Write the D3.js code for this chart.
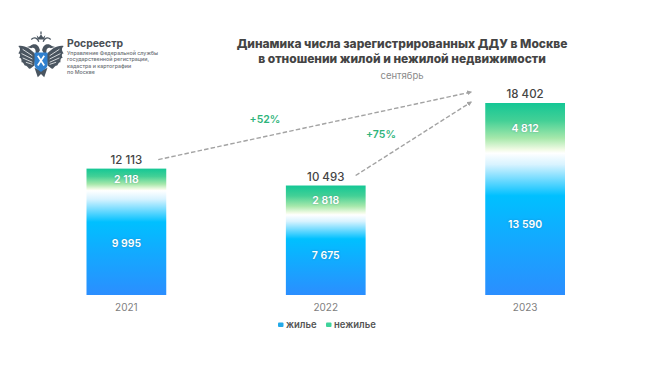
<!DOCTYPE html>
<html lang="en">

<head>
    <meta charset="UTF-8">
    <title>ДДУ в Москве</title>
    <style>
        html, body { margin: 0; padding: 0; background: #fff; }
        svg { display: block; font-family: Inter, sans-serif; }
        .domain { display: none; }
    </style>
</head>

<body>
    <div id="chart"></div>
    <script src="https://d3js.org/d3.v7.min.js"></script>
    <script>
        const years = ["2021", "2022", "2023"];
        const housing = [9995, 7675, 13590];
        const nonHousing = [2118, 2818, 4812];
        const totals = [12113, 10493, 18402];
        const growth = ["+52%", "+75%"];
        const seriesNames = ["жилье", "нежилье"];
        const titleLines = ["Динамика числа зарегистрированных ДДУ в Москве", "в отношении жилой и нежилой недвижимости"];
        const subtitle = "сентябрь";
        const orgLines = ["Управление Федеральной службы", "государственной регистрации,", "кадастра и картографии", "по Москве"];

        const width = 650, height = 367;
        const fmt = v => String(v).replace(/\B(?=(\d{3})+$)/g, " ");

        const svg = d3.select("#chart").append("svg")
            .attr("width", width)
            .attr("height", height);

        const defs = svg.append("defs");
        function gradient(id, stops) {
            defs.append("linearGradient")
                .attr("id", id)
                .attr("x1", 0).attr("x2", 0).attr("y1", 0).attr("y2", 1)
                .selectAll("stop")
                .data(stops)
                .join("stop")
                .attr("offset", d => d[0])
                .attr("stop-color", d => d[1]);
        }
        gradient("blue", [[0, "#ffffff"], [0.08, "#d8f3ff"], [0.3, "#00c0ff"], [0.55, "#10adff"], [1, "#2b8eff"]]);
        gradient("green", [[0, "#14c795"], [0.35, "#43d096"], [0.7, "#a6e8ab"], [0.93, "#f2fbe6"], [1, "#ffffff"]]);

        const x = d3.scaleBand().domain(years).range([86.5, 565]).paddingInner(0.6);
        const y = d3.scaleLinear().domain([0, 18402]).range([295, 103]);

        // bars
        const bars = svg.append("g")
            .selectAll("g")
            .data(years)
            .join("g")
            .attr("transform", d => `translate(${x(d)},0)`);

        bars.append("rect")
            .attr("y", (d, i) => y(housing[i]))
            .attr("width", x.bandwidth())
            .attr("height", (d, i) => y(0) - y(housing[i]))
            .attr("fill", "url(#blue)");

        bars.append("rect")
            .attr("y", (d, i) => y(totals[i]))
            .attr("width", x.bandwidth())
            .attr("height", (d, i) => y(housing[i]) - y(totals[i]))
            .attr("fill", "url(#green)");

        bars.append("text")
            .attr("class", "val")
            .attr("x", x.bandwidth() / 2)
            .attr("y", (d, i) => y(housing[i] / 2))
            .text((d, i) => fmt(housing[i]));

        bars.append("text")
            .attr("class", "val")
            .attr("x", x.bandwidth() / 2)
            .attr("y", (d, i) => y(housing[i] + nonHousing[i] / 2))
            .text((d, i) => fmt(nonHousing[i]));

        svg.selectAll(".val")
            .attr("text-anchor", "middle")
            .attr("dy", "0.36em")
            .attr("fill", "#fff")
            .attr("font-size", 10.5)
            .attr("font-weight", 600)
            .style("text-shadow", "0 0 2px rgba(60,90,110,0.45)");

        bars.append("text")
            .attr("x", x.bandwidth() / 2)
            .attr("y", (d, i) => y(totals[i]) - 5)
            .attr("text-anchor", "middle")
            .attr("fill", "#444")
            .attr("font-size", 11.5)
            .attr("font-weight", 500)
            .text((d, i) => fmt(totals[i]));

        // x axis
        svg.append("g")
            .attr("transform", `translate(0,${y(0)})`)
            .call(d3.axisBottom(x).tickSize(0).tickPadding(9))
            .call(g => g.selectAll("text")
                .attr("font-family", "Inter, sans-serif")
                .attr("font-size", 10)
                .attr("fill", "#808080"));

        // growth arrows
        defs.append("marker")
            .attr("id", "head")
            .attr("markerUnits", "userSpaceOnUse")
            .attr("viewBox", "0 0 6 6")
            .attr("refX", 5).attr("refY", 3)
            .attr("markerWidth", 5).attr("markerHeight", 5)
            .attr("orient", "auto")
            .append("path")
            .attr("d", "M0,0L6,3L0,6Z")
            .attr("fill", "#a3a3a3");

        const arrowEnd = x("2023") - 14;
        const arrows = [
            { from: "2021", i: 0, x1: x("2021") + x.bandwidth() - 8, y1: y(totals[0]) - 9, y2: y(totals[2]) - 11 },
            { from: "2022", i: 1, x1: x("2022") + x.bandwidth() - 10, y1: y(totals[1]) - 10, y2: y(totals[2]) - 1 }
        ];
        svg.append("g")
            .selectAll("line")
            .data(arrows)
            .join("line")
            .attr("x1", d => d.x1)
            .attr("y1", d => d.y1)
            .attr("x2", arrowEnd)
            .attr("y2", d => d.y2)
            .attr("stroke", "#a3a3a3")
            .attr("stroke-width", 1.4)
            .attr("stroke-dasharray", "4.5 2.2")
            .attr("marker-end", "url(#head)");

        svg.append("g")
            .selectAll("text")
            .data(growth)
            .join("text")
            .attr("x", (d, i) => [265, 381][i])
            .attr("y", (d, i) => [123, 138][i])
            .attr("text-anchor", "middle")
            .attr("fill", "#2eb47a")
            .attr("font-size", 10.5)
            .attr("font-weight", 600)
            .text(d => d);

        // title
        svg.append("g")
            .selectAll("text")
            .data(titleLines)
            .join("text")
            .attr("x", 402)
            .attr("y", (d, i) => 48 + i * 15)
            .attr("text-anchor", "middle")
            .attr("fill", "#444")
            .attr("font-size", 12)
            .attr("font-weight", 800)
            .text(d => d);

        svg.append("text")
            .attr("x", 402)
            .attr("y", 79)
            .attr("text-anchor", "middle")
            .attr("fill", "#8a8a8a")
            .attr("font-size", 9.5)
            .text(subtitle);

        // legend
        const legend = svg.append("g")
            .selectAll("g")
            .data(seriesNames)
            .join("g")
            .attr("transform", (d, i) => `translate(${[278, 326][i]},325)`);
        legend.append("rect")
            .attr("y", -2.5)
            .attr("width", 5.5)
            .attr("height", 4.5)
            .attr("rx", 1)
            .attr("fill", (d, i) => ["#22a9e8", "#3fd39b"][i]);
        legend.append("text")
            .attr("x", 8)
            .attr("dy", "0.32em")
            .attr("fill", "#555")
            .attr("font-size", 9.5)
            .attr("font-weight", 600)
            .text(d => d);

        // logo
        const logo = svg.append("g").attr("transform", "translate(41,59) scale(1.08)");
        const wing = "M-5,-4C-9,-9 -15,-13 -21,-12C-18,-9 -20,-7 -21,-5C-19,-5 -19,-3 -20,-1C-18,-1 -18,1 -18,3C-16,3 -16,5 -15,6C-13,6 -12,8 -11,9C-9,9 -8,7 -6,6Z";
        logo.selectAll("path.wing")
            .data([1, -1])
            .join("path")
            .attr("class", "wing")
            .attr("transform", d => `scale(${d},1)`)
            .attr("d", wing)
            .attr("fill", "#4a5560");
        logo.selectAll("path.feather")
            .data([1, -1])
            .join("path")
            .attr("class", "feather")
            .attr("transform", d => `scale(${d},1)`)
            .attr("d", "M-17,-9L-8,-3M-18,-5L-8,0M-17,-1L-8,3M-14,3L-8,5")
            .attr("stroke", "#fff")
            .attr("stroke-width", 0.7)
            .attr("fill", "none");
        logo.selectAll("path.head")
            .data([1, -1])
            .join("path")
            .attr("class", "head")
            .attr("transform", d => `scale(${d},1)`)
            .attr("d", "M-1,-8C-2,-14 -7,-15 -10,-12L-13,-11L-9,-10C-7,-11 -5,-10 -5,-7L-4,-3Z")
            .attr("fill", "#4a5560");
        logo.append("path")
            .attr("d", "M-3,-18L-4,-22L-2,-20L0,-23L2,-20L4,-22L3,-18Z")
            .attr("fill", "#4a5560");
        logo.append("path")
            .attr("d", "M-0.6,-23h1.2v-2.5h-1.2Z")
            .attr("fill", "#4a5560");
        logo.append("path")
            .attr("d", "M-9,-18C-6,-21 -3,-19 -2,-16M9,-18C6,-21 3,-19 2,-16")
            .attr("stroke", "#4a5560")
            .attr("stroke-width", 1.2)
            .attr("fill", "none");
        logo.append("path")
            .attr("d", "M-6,8L-3,17L0,14L3,17L6,8L2,10H-2Z")
            .attr("fill", "#4a5560");
        logo.append("path")
            .attr("d", "M-6,-6H6V5C6,9 2,10 0,12C-2,10 -6,9 -6,5Z")
            .attr("fill", "#2f80cf");
        logo.append("path")
            .attr("d", "M-3,-3L3,6M3,-3L-3,6")
            .attr("stroke", "#fff")
            .attr("stroke-width", 1.6);

        svg.append("text")
            .attr("x", 67)
            .attr("y", 47)
            .attr("fill", "#4a4f55")
            .attr("font-size", 10.4)
            .attr("font-weight", 700)
            .text("Росреестр");
        svg.append("g")
            .selectAll("text")
            .data(orgLines)
            .join("text")
            .attr("x", 67)
            .attr("y", (d, i) => 55 + i * 6.4)
            .attr("fill", "#6a6f75")
            .attr("font-size", 5.3)
            .attr("font-weight", 500)
            .text(d => d);
    </script>
</body>

</html>
